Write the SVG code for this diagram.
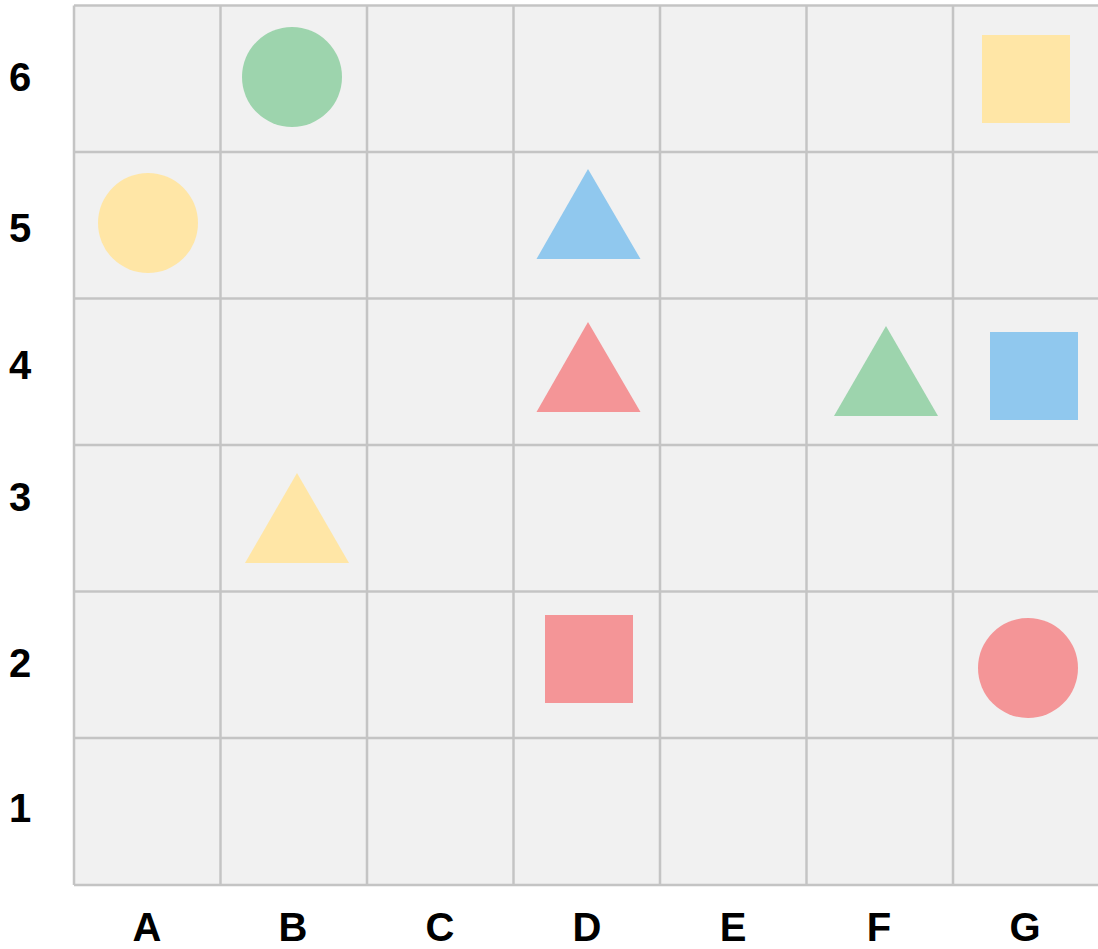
<svg xmlns="http://www.w3.org/2000/svg" width="1098" height="949" viewBox="0 0 1098 949">
<style>
.lbl{font-family:"Liberation Sans","DejaVu Sans",sans-serif;font-weight:bold;font-size:40px;fill:#000;text-anchor:middle}
.grid line{stroke:#c4c4c4;stroke-width:2.5}
.y{fill:#ffe6a6}.g{fill:#9dd4ad}.b{fill:#90c8ee}.r{fill:#f49597}
</style>
<rect x="0" y="0" width="1098" height="949" fill="#ffffff"/>
<g id="board" class="grid">
<rect x="74" y="5.5" width="1030" height="879.5" fill="#f1f1f1"/>
<line x1="74" y1="5.5" x2="1098" y2="5.5"/>
<line x1="74" y1="152" x2="1098" y2="152"/>
<line x1="74" y1="298.5" x2="1098" y2="298.5"/>
<line x1="74" y1="445" x2="1098" y2="445"/>
<line x1="74" y1="591.5" x2="1098" y2="591.5"/>
<line x1="74" y1="738" x2="1098" y2="738"/>
<line x1="74" y1="885" x2="1098" y2="885"/>
<line x1="74" y1="5.5" x2="74" y2="885"/>
<line x1="220.5" y1="5.5" x2="220.5" y2="885"/>
<line x1="367" y1="5.5" x2="367" y2="885"/>
<line x1="513.5" y1="5.5" x2="513.5" y2="885"/>
<line x1="660" y1="5.5" x2="660" y2="885"/>
<line x1="806.5" y1="5.5" x2="806.5" y2="885"/>
<line x1="953" y1="5.5" x2="953" y2="885"/>
</g>
<g id="row-labels">
<text class="lbl" x="20" y="91">6</text>
<text class="lbl" x="20" y="242">5</text>
<text class="lbl" x="20" y="379">4</text>
<text class="lbl" x="20" y="511">3</text>
<text class="lbl" x="20" y="677">2</text>
<text class="lbl" x="20" y="822">1</text>
</g>
<g id="col-labels">
<text class="lbl" x="147" y="941">A</text>
<text class="lbl" x="293" y="941">B</text>
<text class="lbl" x="440" y="941">C</text>
<text class="lbl" x="587" y="941">D</text>
<text class="lbl" x="733" y="941">E</text>
<text class="lbl" x="879" y="941">F</text>
<text class="lbl" x="1025" y="941">G</text>
</g>
<g id="B6"><circle class="g" cx="292" cy="77" r="50"/></g>
<g id="G6"><rect class="y" x="982" y="35" width="88" height="88"/></g>
<g id="A5"><circle class="y" cx="148" cy="223" r="50"/></g>
<g id="D5"><polygon class="b" points="588,169 536.5,259 640.5,259"/></g>
<g id="D4"><polygon class="r" points="588,322 536.5,412 640.5,412"/></g>
<g id="F4"><polygon class="g" points="886,326 834,416 938,416"/></g>
<g id="G4"><rect class="b" x="990" y="332" width="88" height="88"/></g>
<g id="B3"><polygon class="y" points="297,473 245,563 349,563"/></g>
<g id="D2"><rect class="r" x="545" y="615" width="88" height="88"/></g>
<g id="G2"><circle class="r" cx="1028" cy="668" r="50"/></g>
</svg>
